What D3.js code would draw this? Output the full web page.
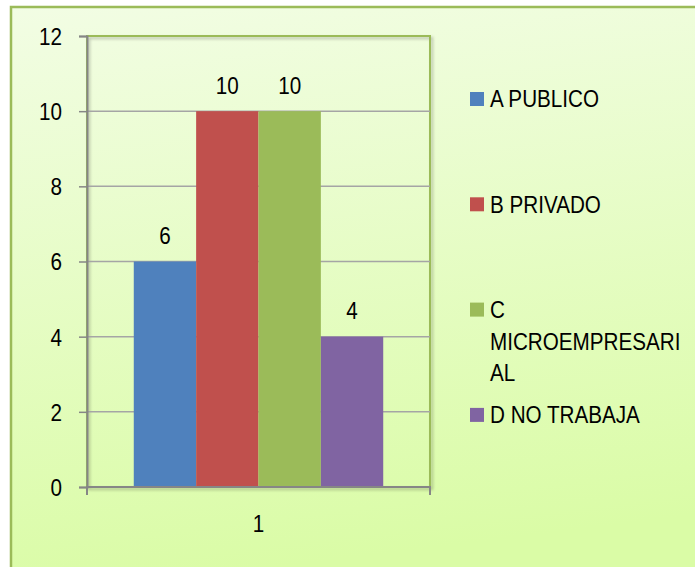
<!DOCTYPE html>
<html>
<head>
<meta charset="utf-8">
<script src="https://cdn.jsdelivr.net/npm/d3@7"></script>
<style>
  body { margin: 0; background: #ffffff; }
  text { font-family: "Liberation Sans", Arial, sans-serif; fill: #000; }
</style>
</head>
<body>
<svg id="chart" width="695" height="567"></svg>
<script>
// chart data
let categories = ["1"];
let seriesNames = ["A PUBLICO", "B PRIVADO", "C MICROEMPRESARIAL", "D NO TRABAJA"];
let seriesValues = [6, 10, 10, 4];
let seriesColors = ["#4F81BD", "#C0504D", "#9BBB59", "#8064A2"];
let yTickValues = [0, 2, 4, 6, 8, 10, 12];

// the original font is a narrow one, squeeze the installed sans to match
let squeeze = 0.86;

function getConfig() {
    let width = 695;
    let height = 567;
    // plot area inside the chart frame
    let plot = { left: 87, right: 430, top: 36, bottom: 487 };
    let container = d3.select("#chart");
    return { width, height, plot, container };
}

function getScales(config) {
    let { plot } = config;
    let yScale = d3.scaleLinear()
        .domain([0, 12])
        .range([plot.bottom, plot.top]);
    let xScale = d3.scaleBand()
        .domain(categories)
        .range([plot.left, plot.right]);
    // gap width 150% -> outer padding of 0.75 step each side
    let xInner = d3.scaleBand()
        .domain(seriesNames)
        .range([0, xScale.bandwidth()])
        .paddingInner(0)
        .paddingOuter(0.75);
    return { xScale, yScale, xInner };
}

function drawBackground(config) {
    let { container } = config;
    let defs = container.append("defs");
    let grad = defs.append("linearGradient")
        .attr("id", "bg")
        .attr("x1", 0).attr("y1", 0).attr("x2", 0.15).attr("y2", 1);
    grad.append("stop").attr("offset", "0%").attr("stop-color", "#F2FDE4");
    grad.append("stop").attr("offset", "100%").attr("stop-color", "#DAFCA6");

    let shadow = defs.append("filter").attr("id", "shadow")
        .attr("x", "-5%").attr("y", "-5%").attr("width", "115%").attr("height", "115%");
    shadow.append("feDropShadow")
        .attr("dx", 2).attr("dy", 2).attr("stdDeviation", 1.5)
        .attr("flood-color", "#000").attr("flood-opacity", 0.25);

    // chart frame runs past the right and bottom edges
    container.append("rect")
        .attr("x", 11).attr("y", 7)
        .attr("width", 700).attr("height", 580)
        .attr("fill", "url(#bg)")
        .attr("stroke", "#9BBB59")
        .attr("stroke-width", 2.5);
}

function drawGrid(scales, config) {
    let { yScale } = scales;
    let { container, plot } = config;
    // plot area border with a soft shadow (top + right green)
    container.append("rect")
        .attr("x", plot.left).attr("y", plot.top)
        .attr("width", plot.right - plot.left)
        .attr("height", plot.bottom - plot.top)
        .attr("fill", "none")
        .attr("stroke", "#9BBB59")
        .attr("stroke-width", 2)
        .attr("filter", "url(#shadow)");

    container.append("g")
        .selectAll("line")
        .data(yTickValues.filter(v => v > 0 && v < 12))
        .enter().append("line")
        .attr("x1", plot.left).attr("x2", plot.right)
        .attr("y1", d => yScale(d)).attr("y2", d => yScale(d))
        .attr("stroke", "#A5A5A5")
        .attr("stroke-width", 1.5);
}

function drawBars(scales, config) {
    let { xScale, yScale, xInner } = scales;
    let { container } = config;
    let rows = seriesNames.map((name, i) => ({ name: name, value: seriesValues[i], color: seriesColors[i] }));
    let body = container.append("g")
        .attr("transform", "translate(" + xScale(categories[0]) + ",0)");

    body.selectAll(".bar")
        .data(rows)
        .enter().append("rect")
        .attr("class", "bar")
        .attr("x", d => xInner(d.name))
        .attr("width", xInner.bandwidth())
        .attr("y", d => yScale(d.value))
        .attr("height", d => yScale(0) - yScale(d.value))
        .attr("fill", d => d.color);

    // value labels above bars
    body.selectAll(".value")
        .data(rows)
        .enter().append("text")
        .attr("class", "value")
        .attr("x", d => xInner(d.name) + xInner.bandwidth() / 2)
        .attr("y", d => yScale(d.value) - 26)
        .attr("text-anchor", "middle")
        .attr("dy", "0.35em")
        .style("font-size", "24px")
        .text(d => d.value);
}

function drawAxes(scales, config) {
    let { xScale, yScale } = scales;
    let { container, plot } = config;

    let axisY = d3.axisLeft(yScale)
        .tickValues(yTickValues)
        .tickSize(8)
        .tickPadding(17);
    let gy = container.append("g")
        .attr("transform", "translate(" + plot.left + ",0)")
        .call(axisY);
    gy.select(".domain").attr("stroke", "#868686").attr("stroke-width", 2);
    gy.selectAll(".tick line").attr("stroke", "#868686").attr("stroke-width", 1.5);
    gy.selectAll(".tick text")
        .style("font-size", "24px")
        .attr("dy", "0.35em");

    let axisX = d3.axisBottom(xScale).tickSize(0).tickPadding(28);
    let gx = container.append("g")
        .attr("transform", "translate(0," + plot.bottom + ")")
        .call(axisX);
    gx.select(".domain").remove();
    gx.append("line")
        .attr("x1", plot.left - 1).attr("x2", plot.right + 1)
        .attr("stroke", "#868686").attr("stroke-width", 2);
    gx.selectAll(".tick text").style("font-size", "24px");
    // category boundary ticks
    gx.selectAll(".edge")
        .data(xScale.range())
        .enter().append("line")
        .attr("x1", d => d).attr("x2", d => d)
        .attr("y1", 0).attr("y2", 8)
        .attr("stroke", "#868686").attr("stroke-width", 2);
}

function wrapWords(textSel, label, maxWidth) {
    // break on spaces, then split any word that is still too long
    let lines = [];
    let tspan = textSel.append("tspan");
    let fits = s => { tspan.text(s); return tspan.node().getComputedTextLength() * squeeze <= maxWidth; };
    let current = "";
    label.split(" ").forEach(word => {
        let trial = current ? current + " " + word : word;
        if (fits(trial)) { current = trial; return; }
        if (current) lines.push(current);
        current = "";
        let piece = "";
        for (let ch of word) {
            if (fits(piece + ch)) piece += ch;
            else { lines.push(piece); piece = ch; }
        }
        current = piece;
    });
    if (current) lines.push(current);
    tspan.remove();
    return lines;
}

function drawLegend(config) {
    let { container } = config;
    let step = 105.3;
    let legend = container.append("g");
    seriesNames.forEach((name, i) => {
        let cy = 99 + i * step;
        legend.append("rect")
            .attr("x", 470).attr("y", cy - 7)
            .attr("width", 14).attr("height", 14)
            .attr("fill", seriesColors[i]);
        let t = legend.append("text")
            .attr("class", "legend-label")
            .style("font-size", "24px");
        let lines = wrapWords(t, name, 198);
        lines.forEach((line, k) => {
            t.append("tspan")
                .attr("x", 490)
                .attr("y", cy + k * 31.5)
                .attr("dy", "0.35em")
                .text(line);
        });
    });
}

function squeezeText(config) {
    // narrow every single-line text and each legend line
    let { container } = config;
    let squeezeOne = function() {
        let len = this.getComputedTextLength();
        d3.select(this)
            .attr("textLength", len * squeeze)
            .attr("lengthAdjust", "spacingAndGlyphs");
    };
    container.selectAll("text:not(.legend-label)").each(squeezeOne);
    container.selectAll(".legend-label tspan").each(squeezeOne);
}

function drawChart() {
    let config = getConfig();
    let scales = getScales(config);
    drawBackground(config);
    drawGrid(scales, config);
    drawBars(scales, config);
    drawAxes(scales, config);
    drawLegend(config);
    squeezeText(config);
}

drawChart();
</script>
</body>
</html>
